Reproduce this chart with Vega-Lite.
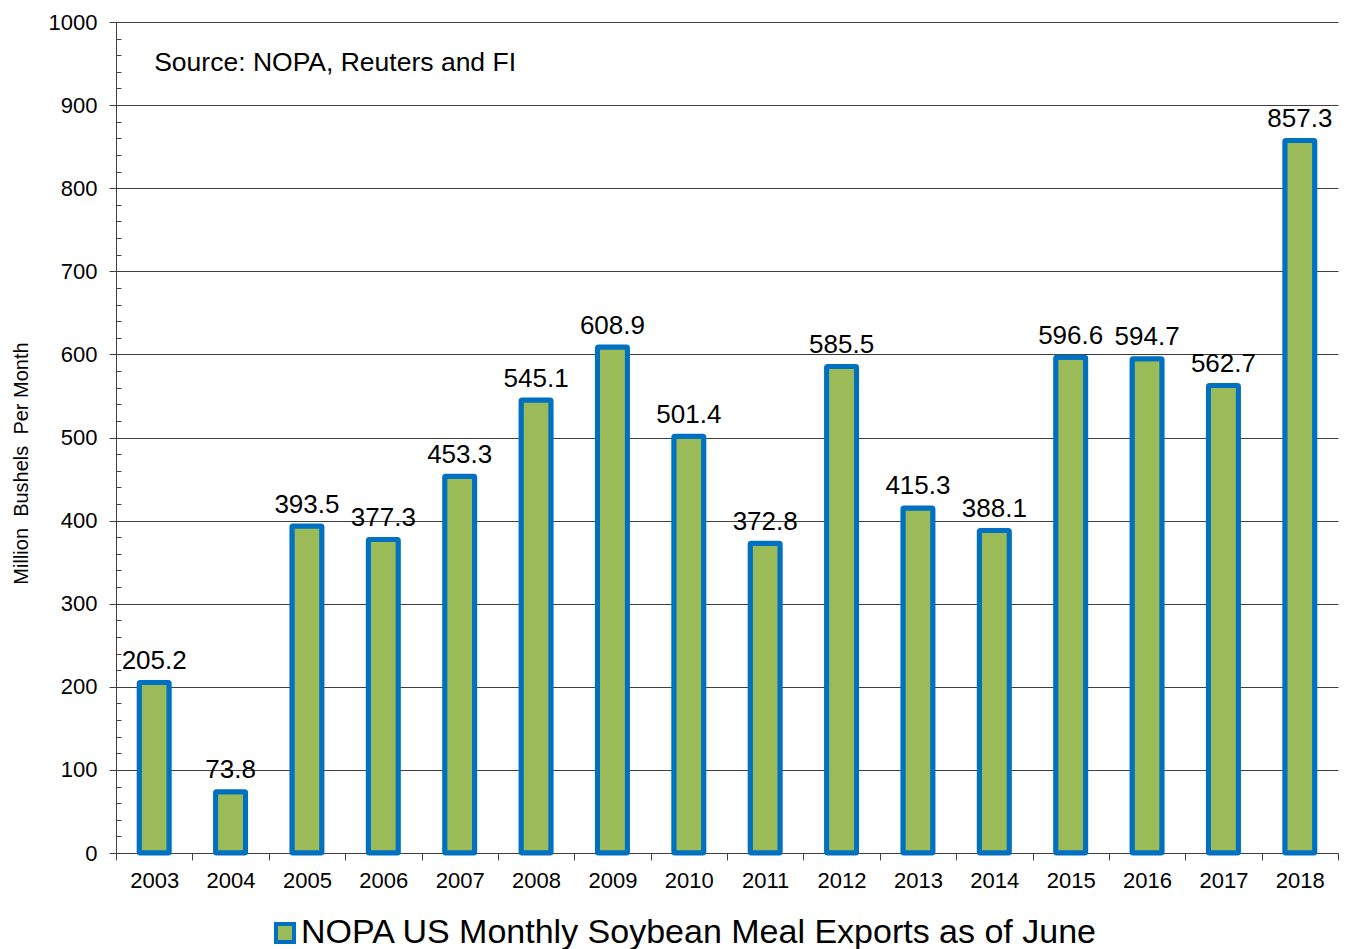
{
  "$schema": "https://vega.github.io/schema/vega-lite/v6.json",
  "width": 1222,
  "height": 831,
  "autosize": "none",
  "padding": {"left": 116, "top": 22, "right": 11, "bottom": 96},
  "background": "white",
  "config": {"font": "Liberation Sans", "view": {"stroke": null}},
  "data": {
    "values": [
      {"year": "2003", "exports": 205.2},
      {"year": "2004", "exports": 73.8},
      {"year": "2005", "exports": 393.5},
      {"year": "2006", "exports": 377.3},
      {"year": "2007", "exports": 453.3},
      {"year": "2008", "exports": 545.1},
      {"year": "2009", "exports": 608.9},
      {"year": "2010", "exports": 501.4},
      {"year": "2011", "exports": 372.8},
      {"year": "2012", "exports": 585.5},
      {"year": "2013", "exports": 415.3},
      {"year": "2014", "exports": 388.1},
      {"year": "2015", "exports": 596.6},
      {"year": "2016", "exports": 594.7},
      {"year": "2017", "exports": 562.7},
      {"year": "2018", "exports": 857.3}
    ]
  },
  "layer": [
    {
      "mark": {"type": "bar", "width": 30, "stroke": "#0070C0", "strokeWidth": 5, "cornerRadius": 1},
      "encoding": {
        "x": {
          "field": "year", "type": "nominal",
          "scale": {"paddingInner": 0, "paddingOuter": 0},
          "axis": {
            "title": null, "labelAngle": 0, "tickBand": "extent", "tickSize": 7,
            "labelFontSize": 22, "labelPadding": 10, "labelColor": "black",
            "domainColor": "#404040", "tickColor": "#404040", "grid": false
          }
        },
        "y": {
          "field": "exports", "type": "quantitative",
          "scale": {"domain": [0, 1000], "nice": false},
          "axis": {
            "title": "Million\u00a0 Bushels\u00a0 Per Month",
            "titleFontSize": 20, "titleFontWeight": "normal", "titleColor": "black",
            "titlePadding": 17, "titleY": 441,
            "tickCount": 100,
            "format": "d",
            "values": [0,20,40,60,80,100,120,140,160,180,200,220,240,260,280,300,320,340,360,380,400,420,440,460,480,500,520,540,560,580,600,620,640,660,680,700,720,740,760,780,800,820,840,860,880,900,920,940,960,980,1000],
            "labelExpr": "datum.value % 100 === 0 ? datum.label : ''",
            "labelOverlap": false,
            "tickSize": {"condition": {"test": "datum.value % 100 === 0", "value": 7}, "value": -5},
            "gridOpacity": {"condition": {"test": "datum.value % 100 === 0", "value": 1}, "value": 0},
            "gridColor": "#404040",
            "labelFontSize": 22, "labelPadding": 12, "labelColor": "black",
            "domainColor": "#404040", "tickColor": "#404040"
          }
        },
        "color": {
          "datum": "NOPA US Monthly Soybean Meal Exports as of June",
          "scale": {"range": ["#9BBB59"]},
          "legend": {
            "orient": "none", "legendX": 152, "legendY": 894, "title": null,
            "symbolType": "square", "symbolSize": 324,
            "symbolStrokeColor": "#0070C0", "symbolStrokeWidth": 4, "symbolFillColor": "#9BBB59",
            "labelFontSize": 34, "labelColor": "black", "labelOffset": -1, "labelLimit": 0
          }
        }
      }
    },
    {
      "mark": {"type": "text", "dy": -13.5, "baseline": "alphabetic", "fontSize": 26, "color": "black"},
      "encoding": {
        "x": {"field": "year", "type": "nominal"},
        "y": {"field": "exports", "type": "quantitative"},
        "text": {"field": "exports", "type": "quantitative", "format": ".1f"}
      }
    },
    {
      "data": {"values": [{"note": "Source: NOPA, Reuters and FI"}]},
      "mark": {"type": "text", "align": "left", "baseline": "alphabetic", "fontSize": 26.5, "color": "black"},
      "encoding": {
        "x": {"datum": "2003", "type": "nominal"},
        "y": {"datum": 941, "type": "quantitative"},
        "text": {"field": "note", "type": "nominal"}
      }
    }
  ]
}
